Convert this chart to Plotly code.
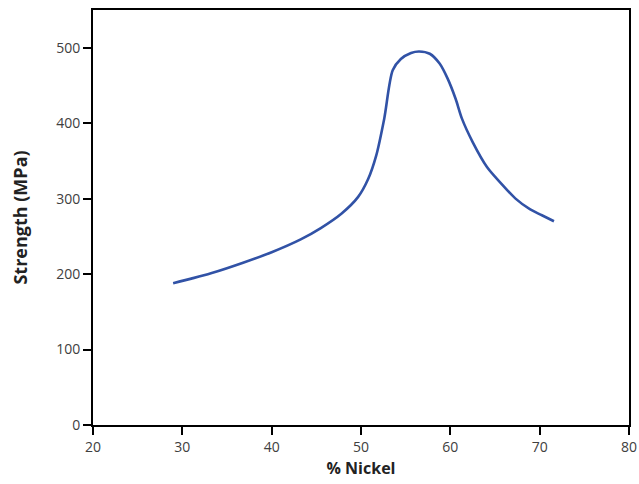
import plotly.graph_objects as go

nickel_pct = [28.97, 31.0, 33.2, 36.8, 40.0, 43.25, 45.5, 47.8, 49.66, 50.8, 51.7, 52.6, 53.55,
              54.46, 55.6, 56.5, 57.7, 58.8, 59.7, 60.6, 61.3, 62.5, 64.1, 65.7, 67.3,
              68.9, 70.25, 71.6]
strength_mpa = [188, 194, 201, 215, 229, 246, 261, 280, 302, 326, 357, 406, 470,
                485, 493, 495, 492, 479, 459, 432, 406, 375, 342, 320, 300,
                286, 278, 270]
x_ticks = [20, 30, 40, 50, 60, 70, 80]
y_ticks = [0, 100, 200, 300, 400, 500]

fig = go.Figure()
fig.add_trace(go.Scatter(x=nickel_pct, y=strength_mpa, mode="lines",
                         line=dict(color="#3152A6", width=2.6, shape="spline", smoothing=0.8),
                         showlegend=False))

axis_common = dict(showline=True, linecolor="black", linewidth=2, mirror=True,
                   showgrid=False, zeroline=False, ticks="outside", ticklen=8,
                   tickwidth=2, tickcolor="black", automargin=False,
                   tickfont=dict(family="Open Sans", size=14, color="#404040"))

fig.update_xaxes(range=[20, 80], tickvals=x_ticks, **axis_common,
                 title=dict(text="<b>% Nickel</b>", font=dict(family="Open Sans", size=16, color="#222222"),
                            standoff=8))
fig.update_yaxes(range=[0, 550], tickvals=y_ticks, **axis_common,
                 title=dict(text="<b>Strength (MPa)</b>", font=dict(family="Open Sans", size=18, color="#222222"),
                            standoff=24))

fig.update_layout(width=639, height=484, margin=dict(l=93, r=10, t=10, b=59),
                  plot_bgcolor="white", paper_bgcolor="white")

fig.write_html("out.html", config={"displayModeBar": False},
               post_script="document.body.style.margin='0';document.body.style.overflow='hidden';")
